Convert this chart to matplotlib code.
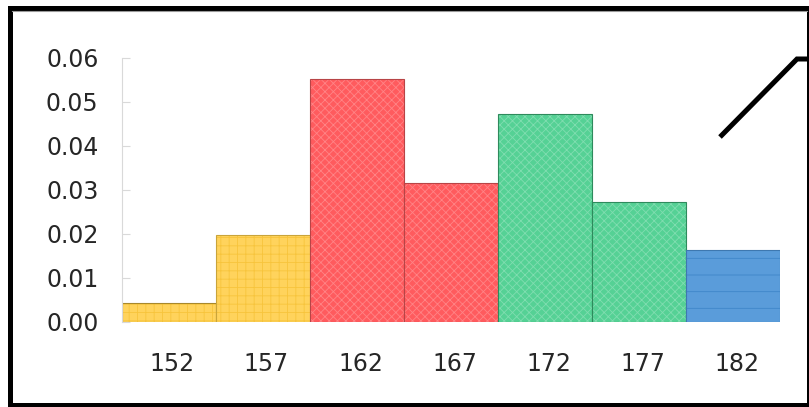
import matplotlib
matplotlib.use("Agg")
import matplotlib.pyplot as plt
import matplotlib.transforms as mtransforms
from matplotlib.patches import Rectangle
from matplotlib.lines import Line2D

# Histogram data: class midpoints (cm) and density per class
categories = ["152", "157", "162", "167", "172", "177", "182"]
density = [0.0041, 0.0197, 0.0551, 0.0314, 0.0473, 0.0272, 0.0163]
yticks = [0.00, 0.01, 0.02, 0.03, 0.04, 0.05, 0.06]

face_colors = ["#FFD35C", "#FFD35C", "#FF5B5E", "#FF5B5E", "#55D195", "#55D195", "#5A9CDA"]
edge_colors = ["#A8882C", "#C9A43A", "#B84446", "#B84446", "#2E8A5C", "#2E8A5C", "#3E78B0"]
hatch_colors = ["#F7C43C", "#F7C43C", "#FF8486", "#FF8486", "#80DDB0", "#80DDB0", "#3F86C9"]
hatches = ["++", "++", "xxxx", "xxxx", "xxxx", "xxxx", "-"]

plt.rcParams["hatch.linewidth"] = 0.6

W, H = 809, 407
fig = plt.figure(figsize=(W / 100, H / 100), dpi=100)
fig.patch.set_facecolor("white")

ax_left, ax_right = 122, 780
ax_top, ax_bottom = 57.7, 321.5
ax = fig.add_axes([ax_left / W, 1 - ax_bottom / H,
                   (ax_right - ax_left) / W, (ax_bottom - ax_top) / H])

x = list(range(len(categories)))
bars = ax.bar(x, density, width=1.0, align="center", linewidth=0.8)
for b, fc, ec, hc, h in zip(bars, face_colors, edge_colors, hatch_colors, hatches):
    b.set_facecolor(fc)
    b.set_edgecolor(ec)
    if h:
        b.set_hatch(h)
        b._hatch_color = matplotlib.colors.to_rgba(hc)

ax.set_xlim(-0.5, len(categories) - 0.5)
ax.set_ylim(0, 0.06)
ax.set_yticks(yticks)
ax.set_yticklabels([f"{v:.2f}" for v in yticks])
ax.set_xticks(x)
ax.set_xticklabels(categories)

for side in ("top", "right", "bottom"):
    ax.spines[side].set_visible(False)
ax.spines["left"].set_color("#D9D9D9")
ax.spines["left"].set_linewidth(0.8)

ax.tick_params(axis="y", direction="in", length=5.8, width=0.8, color="#D9D9D9",
               labelsize=17, pad=17, labelcolor="#262626")
ax.tick_params(axis="x", length=0, labelsize=17, pad=22, labelcolor="#262626")

shift = mtransforms.ScaledTranslation(3.5 / 100, 0, fig.dpi_scale_trans)
for lbl in ax.get_xticklabels():
    lbl.set_transform(lbl.get_transform() + shift)

# Outer frame around the whole chart
frame = Rectangle((9.5 / W, 1 - 405 / H), (809 - 9.5) / W, (405 - 7.5) / H,
                  transform=fig.transFigure, fill=False, edgecolor="black",
                  linewidth=3.6, clip_on=False)
fig.add_artist(frame)
# thin grey inner rule along the top edge
fig.add_artist(Line2D([12 / W, 806.5 / W], [1 - 10.5 / H, 1 - 10.5 / H],
                      transform=fig.transFigure, color="#9A9A9A", linewidth=0.8))

# Connector stroke in the upper-right corner
conn = Line2D([720 / W, 797 / W, 809 / W], [1 - 137 / H, 1 - 59 / H, 1 - 59 / H],
              transform=fig.transFigure, color="black", linewidth=3.6,
              solid_capstyle="butt", solid_joinstyle="miter")
fig.add_artist(conn)

fig.savefig("out.png", dpi=100, facecolor="white")
